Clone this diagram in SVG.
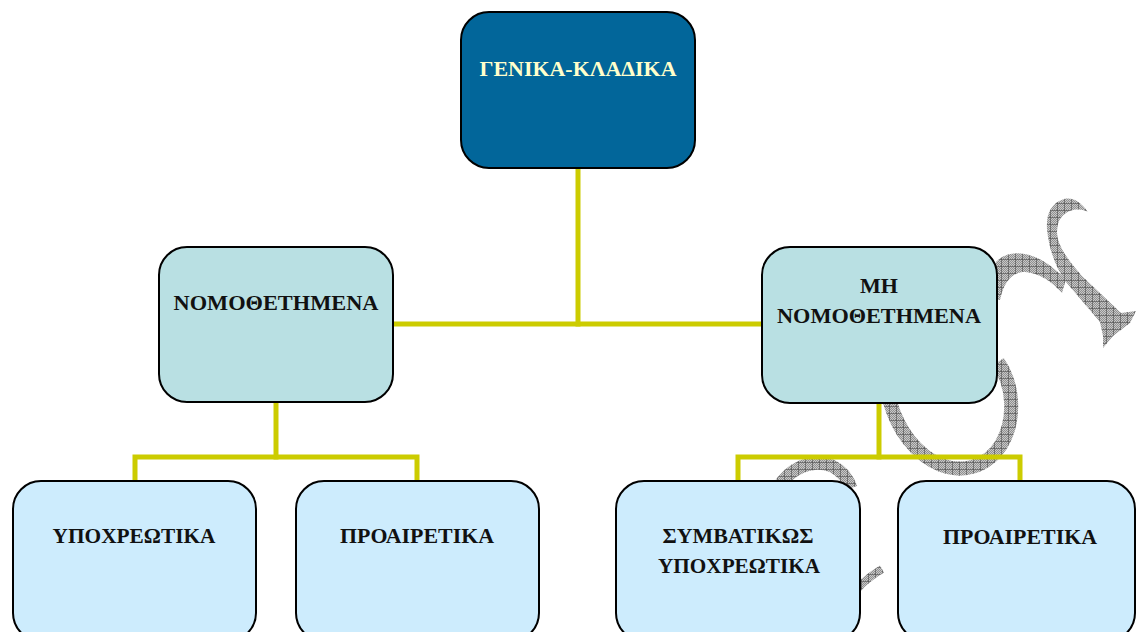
<svg xmlns="http://www.w3.org/2000/svg" width="1136" height="632" viewBox="0 0 1136 632">
  <defs>
    <!-- fine dither for the ornament -->
    <pattern id="dither" patternUnits="userSpaceOnUse" width="2" height="2">
      <rect width="2" height="2" fill="#c8c8c8"/>
      <rect width="1" height="1" fill="#909090"/>
      <rect x="1" y="1" width="1" height="1" fill="#909090"/>
    </pattern>
    <!-- grid over dither -->
    <pattern id="hatch" patternUnits="userSpaceOnUse" width="7" height="7">
      <rect width="7" height="7" fill="url(#dither)"/>
      <path d="M0,0.4 H7 M0.4,0 V7" stroke="#505050" stroke-width="0.7" fill="none"/>
    </pattern>
    <style>
      .box { stroke: #000; stroke-width: 2; }
      .top { fill: #02669a; }
      .mid { fill: #b9e0e3; }
      .leaf { fill: #cdecfd; }
      .lbl { font-family: "Liberation Serif", "DejaVu Serif", serif; font-weight: bold; font-size: 20px; text-anchor: middle; fill: #111; }
      .lbl-top { fill: #ffffcc; }
      .wire { stroke: #cccc00; stroke-width: 5; fill: none; stroke-linecap: square; }
      .orn { fill: none; stroke: url(#hatch); stroke-linecap: butt; }
    </style>
  </defs>

  <rect width="1136" height="632" fill="#fff"/>

  <!-- decorative script ornament behind the chart -->
  <g id="ornament">
    <path fill="url(#hatch)" d="M1088,212 C1080,201 1072,197 1064,199 C1051,203 1046,214 1047,229 C1049,250 1056,268 1066,282 L1100,322 L1103,336 L1103,348 L1113,336 L1130,323 L1136,311 L1121,313 L1082,276 C1066,258 1057,244 1057,232 C1057,219 1064,212 1073,210 C1080,209 1085,210 1088,212 Z"/>
    <path fill="url(#hatch)" d="M996,262 C1005,252 1020,251 1035,257 C1047,262 1056,270 1066,279 L1062,293 C1052,282 1040,273 1025,272 C1012,272 1004,282 1000,300 L996,300 Z"/>
    <path class="orn" stroke-width="14" d="M998,362 C1014,385 1016,420 1001,445 C986,468 962,473 941,465 C916,455 898,430 890,402"/>
    <path class="orn" stroke-width="13" d="M778,488 C790,468 812,458 832,466 C842,471 848,479 851,488"/>
    <path class="orn" stroke-width="8" d="M856,590 C864,581 872,575 882,569"/>
  </g>

  <!-- connectors -->
  <g id="connectors">
    <path class="wire" d="M578,168 V324"/>
    <path class="wire" d="M393,324 H762"/>
    <path class="wire" d="M276,402 V457"/>
    <path class="wire" d="M135,481 V457 H417 V481"/>
    <path class="wire" d="M879,403 V457"/>
    <path class="wire" d="M738,481 V457 H1020 V481"/>
  </g>

  <g id="node-general">
    <rect class="box top" x="461" y="12" width="234" height="156" rx="28"/>
    <text class="lbl lbl-top" x="578" y="76" textLength="197" lengthAdjust="spacingAndGlyphs">ΓΕΝΙΚΑ-ΚΛΑΔΙΚΑ</text>
  </g>

  <g id="node-legislated">
    <rect class="box mid" x="159" y="247" width="234" height="155" rx="28"/>
    <text class="lbl" x="276" y="310" textLength="205" lengthAdjust="spacingAndGlyphs">ΝΟΜΟΘΕΤΗΜΕΝΑ</text>
  </g>

  <g id="node-non-legislated">
    <rect class="box mid" x="762" y="247" width="235" height="156" rx="28"/>
    <text class="lbl" x="879" y="293" textLength="38" lengthAdjust="spacingAndGlyphs">ΜΗ</text>
    <text class="lbl" x="879" y="323" textLength="204" lengthAdjust="spacingAndGlyphs">ΝΟΜΟΘΕΤΗΜΕΝΑ</text>
  </g>

  <g id="node-compulsory">
    <rect class="box leaf" x="13" y="481" width="243" height="160" rx="28"/>
    <text class="lbl" x="134" y="543" textLength="163" lengthAdjust="spacingAndGlyphs">ΥΠΟΧΡΕΩΤΙΚΑ</text>
  </g>

  <g id="node-optional-a">
    <rect class="box leaf" x="296" y="481" width="243" height="160" rx="28"/>
    <text class="lbl" x="417" y="543" textLength="154" lengthAdjust="spacingAndGlyphs">ΠΡΟΑΙΡΕΤΙΚΑ</text>
  </g>

  <g id="node-contractual">
    <rect class="box leaf" x="616" y="481" width="244" height="160" rx="28"/>
    <text class="lbl" x="738" y="543" textLength="151" lengthAdjust="spacingAndGlyphs">ΣΥΜΒΑΤΙΚΩΣ</text>
    <text class="lbl" x="739" y="573" textLength="162" lengthAdjust="spacingAndGlyphs">ΥΠΟΧΡΕΩΤΙΚΑ</text>
  </g>

  <g id="node-optional-b">
    <rect class="box leaf" x="898" y="481" width="237" height="160" rx="28"/>
    <text class="lbl" x="1020" y="544" textLength="154" lengthAdjust="spacingAndGlyphs">ΠΡΟΑΙΡΕΤΙΚΑ</text>
  </g>
</svg>
